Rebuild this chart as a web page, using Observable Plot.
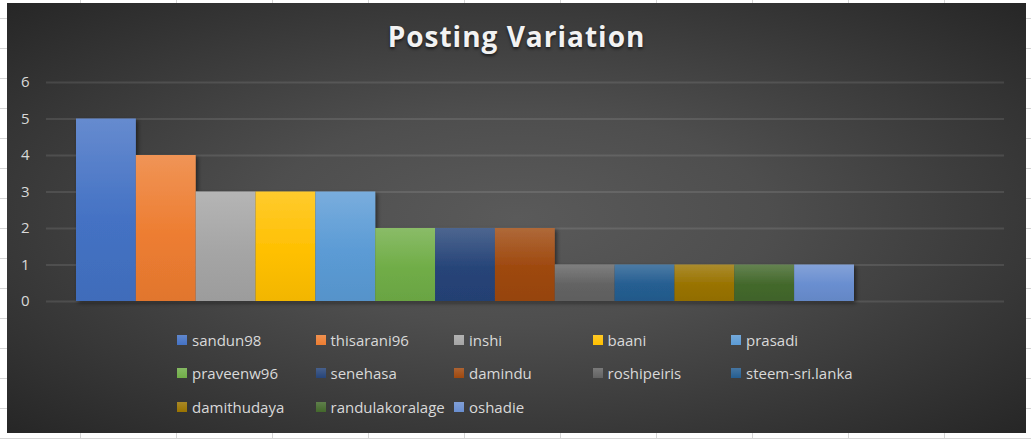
<!DOCTYPE html>
<html>
<head>
<meta charset="utf-8">
<script src="https://cdn.jsdelivr.net/npm/d3@7"></script>
<script src="https://cdn.jsdelivr.net/npm/@observablehq/plot@0.6"></script>
<style>
  html, body { margin: 0; padding: 0; }
  body {
    width: 1031px; height: 439px; overflow: hidden; position: relative;
    background-color: #fff;
    background-image:
      linear-gradient(to right, #d6d6d6 1px, transparent 1px),
      linear-gradient(to bottom, #d6d6d6 1px, transparent 1px);
    background-size: 96px 30px;
    background-position: 80px 18px;
    font-family: "Open Sans", sans-serif;
  }
  #chart {
    position: absolute; left: 7px; top: 3px; width: 1019px; height: 430px;
    background: radial-gradient(ellipse farthest-corner at 50% 50%, #5a5a5a 0%, #4e4e4e 35%, #262626 100%);
    overflow: hidden;
  }
  #title {
    position: absolute; left: 0; width: 100%; top: 14px; text-align: center;
    font-family: "Open Sans", sans-serif; font-weight: 700; font-size: 28px;
    letter-spacing: 1px; color: #f2f2f2; text-shadow: 0 2px 3px rgba(0,0,0,0.6);
    line-height: 38px;
  }
  #plot { position: absolute; left: 0; top: 0; }
  #legend {
    position: absolute; left: 170px; top: 320px;
    display: grid; grid-template-columns: repeat(5, 138.5px); grid-auto-rows: 33.5px;
    font-size: 15px; color: #d9d9d9;
  }
  .item { display: flex; align-items: center; white-space: nowrap; }
  .sw { width: 10px; height: 10px; margin-right: 5px; flex: none; }
</style>
</head>
<body>
<div id="chart">
  <div id="plot"></div>
  <div id="title">Posting Variation</div>
  <div id="legend"></div>
</div>
<script>
const names = ["sandun98", "thisarani96", "inshi", "baani", "prasadi", "praveenw96", "senehasa", "damindu", "roshipeiris", "steem-sri.lanka", "damithudaya", "randulakoralage", "oshadie"];
const posts = [5, 4, 3, 3, 3, 2, 2, 2, 1, 1, 1, 1, 1];
const colors = ["#4472C4", "#ED7D31", "#A5A5A5", "#FFC000", "#5B9BD5", "#70AD47", "#264478", "#9E480E", "#636363", "#255E91", "#997300", "#43682B", "#698ED0"];
const yTicks = [0, 1, 2, 3, 4, 5, 6];

const data = names.map((n, i) => ({name: n, value: posts[i], grad: `url(#g${i})`}));

const W = 1019, H = 320;
const svg = Plot.plot({
  width: W, height: H,
  marginLeft: 39, marginRight: 22, marginTop: 79, marginBottom: 22,
  style: {background: "transparent", color: "#d9d9d9", fontFamily: "Open Sans, sans-serif", fontSize: "15px", overflow: "visible"},
  x: {type: "band", domain: names, range: [69, 847], padding: 0, round: false, axis: null},
  y: {domain: [0, 6], ticks: yTicks, tickSize: 0, tickPadding: 17, label: null, tickFormat: d => String(d)},
  color: {type: "identity"},
  marks: [
    Plot.ruleY(yTicks, {stroke: "#ffffff", strokeOpacity: 0.1, strokeWidth: 2}),
    Plot.barY(data, {x: "name", y: "value", fill: "grad", inset: 0}),
  ]
});

const sel = d3.select(svg);
const defs = sel.insert("defs", ":first-child");
colors.forEach((c, i) => {
  const g = defs.append("linearGradient").attr("id", `g${i}`).attr("x1", 0).attr("y1", 0).attr("x2", 0).attr("y2", 1);
  g.append("stop").attr("offset", "0%").attr("stop-color", d3.interpolateRgb(c, "#ffffff")(0.18));
  g.append("stop").attr("offset", "55%").attr("stop-color", c);
  g.append("stop").attr("offset", "100%").attr("stop-color", d3.color(c).darker(0.15).formatHex());
});
const f = defs.append("filter").attr("id", "shadow").attr("x", "-10%").attr("y", "-10%").attr("width", "130%").attr("height", "130%");
f.append("feDropShadow").attr("dx", 2).attr("dy", 2).attr("stdDeviation", 2).attr("flood-color", "#000").attr("flood-opacity", 0.5);
sel.selectAll("g[aria-label='bar']").attr("filter", "url(#shadow)");
sel.selectAll("g[aria-label='y-axis tick label'] text, g[aria-label='y-axis tick label']").attr("fill", "#d9d9d9");

document.getElementById("plot").appendChild(svg);

const legend = document.getElementById("legend");
names.forEach((n, i) => {
  const c = colors[i];
  const item = document.createElement("div");
  item.className = "item";
  const sw = document.createElement("span");
  sw.className = "sw";
  sw.style.background = `linear-gradient(${d3.interpolateRgb(c, "#ffffff")(0.15)}, ${c})`;
  const t = document.createElement("span");
  t.textContent = n;
  item.appendChild(sw); item.appendChild(t);
  legend.appendChild(item);
});
</script>
</body>
</html>
